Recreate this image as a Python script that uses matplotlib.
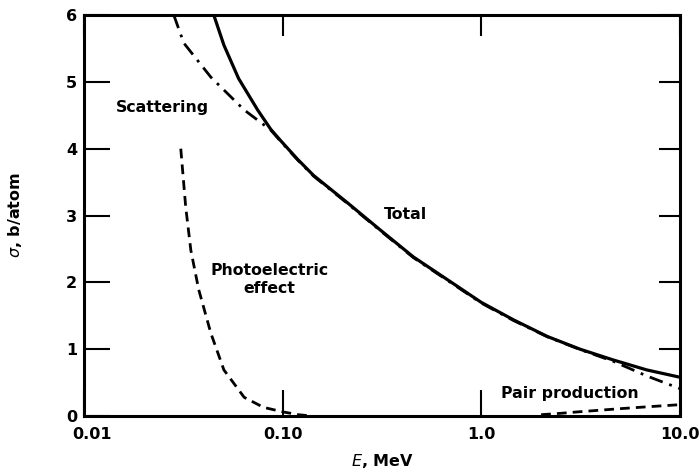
import numpy as np
import matplotlib
matplotlib.use('Agg')
import matplotlib.pyplot as plt
from matplotlib.transforms import ScaledTranslation

# Values (E in MeV, sigma in b/atom)
total_E = [0.045, 0.0506, 0.060, 0.0748, 0.0871, 0.0977, 0.119, 0.143, 0.212,
           0.311, 0.455, 0.675, 1.0, 1.45, 2.15, 3.14, 4.6, 6.8, 10.0]
total_s = [6.0, 5.55, 5.05, 4.58, 4.29, 4.12, 3.84, 3.60, 3.19,
           2.78, 2.38, 2.04, 1.70, 1.44, 1.19, 1.00, 0.84, 0.69, 0.58]

scat_E = [0.0283, 0.0318, 0.0435, 0.064, 0.087, 0.0977, 0.119, 0.143, 0.212,
          0.311, 0.455, 0.675, 1.0, 1.45, 2.15, 3.14, 4.6, 6.8, 10.0]
scat_s = [6.0, 5.58, 5.07, 4.58, 4.28, 4.11, 3.83, 3.59, 3.18,
          2.77, 2.37, 2.03, 1.69, 1.43, 1.185, 0.995, 0.82, 0.60, 0.41]

photo_E = [0.0307, 0.0325, 0.0345, 0.0378, 0.0435, 0.0506, 0.064, 0.080,
           0.101, 0.12, 0.14]
photo_s = [4.0, 3.13, 2.48, 1.89, 1.24, 0.69, 0.28, 0.13, 0.06, 0.02, 0.0]

pair_E = [2.0, 2.5, 3.0, 5.0, 7.0, 10.0]
pair_s = [0.02, 0.04, 0.06, 0.11, 0.14, 0.17]

xticks = [0.01, 0.1, 1.0, 10.0]
xticklabels = ['0.01', '0.10', '1.0', '10.0']
yticks = [0, 1, 2, 3, 4, 5, 6]

plt.rcParams['font.family'] = ['DejaVu Sans']

fig = plt.figure(figsize=(7, 4.76), dpi=100)
ax = fig.add_axes([0.12, 0.126, 0.8514, 0.8425])

ax.plot(total_E, total_s, color='black', lw=2.3, solid_capstyle='butt')
ax.plot(scat_E, scat_s, color='black', lw=2.0, linestyle=(0, (5, 2.5, 1, 2.5)))
ax.plot(photo_E, photo_s, color='black', lw=2.0, linestyle=(0, (3.5, 2.2)))
ax.plot(pair_E, pair_s, color='black', lw=2.0, linestyle=(0, (3.5, 2.2)))

ax.set_xscale('log')
ax.set_xlim(0.01, 10.0)
ax.set_ylim(0, 6)
ax.minorticks_off()
ax.set_xticks(xticks)
ax.set_xticklabels(xticklabels)
ax.set_yticks(yticks)

for sp in ax.spines.values():
    sp.set_linewidth(2.2)

ax.tick_params(axis='both', direction='in', length=19, width=1.5,
               labelsize=11.5)
ax.tick_params(axis='x', pad=8)
ax.tick_params(axis='y', pad=5)
ax.tick_params(top=True, right=True)
for t in ax.get_xticklabels() + ax.get_yticklabels():
    t.set_fontweight('bold')

# shorter ticks on top and right
for tl in ax.xaxis.get_major_ticks():
    tl.tick2line.set_markersize(15)
for tl in ax.yaxis.get_major_ticks():
    tl.tick2line.set_markersize(15)

# the "0.01" label sits a little right of the corner
lbl = ax.get_xticklabels()[0]
lbl.set_transform(lbl.get_transform() + ScaledTranslation(6 / 72, 0, fig.dpi_scale_trans))

ax.set_xlabel('$\\mathit{E}$, MeV', fontsize=11.5, fontweight='bold', labelpad=7)
ax.set_ylabel('$\\mathit{\\sigma}$, b/atom', fontsize=11.5, fontweight='bold', labelpad=30)

lab = dict(fontsize=11.3, fontweight='bold', ha='center', va='center')
ax.text(0.0249, 4.61, 'Scattering', **lab)
ax.text(0.415, 3.01, 'Total', **lab)
ax.text(0.086, 2.04, 'Photoelectric\neffect', linespacing=1.3, **lab)
ax.text(2.80, 0.34, 'Pair production', **lab)

fig.savefig('out.png', dpi=100)
